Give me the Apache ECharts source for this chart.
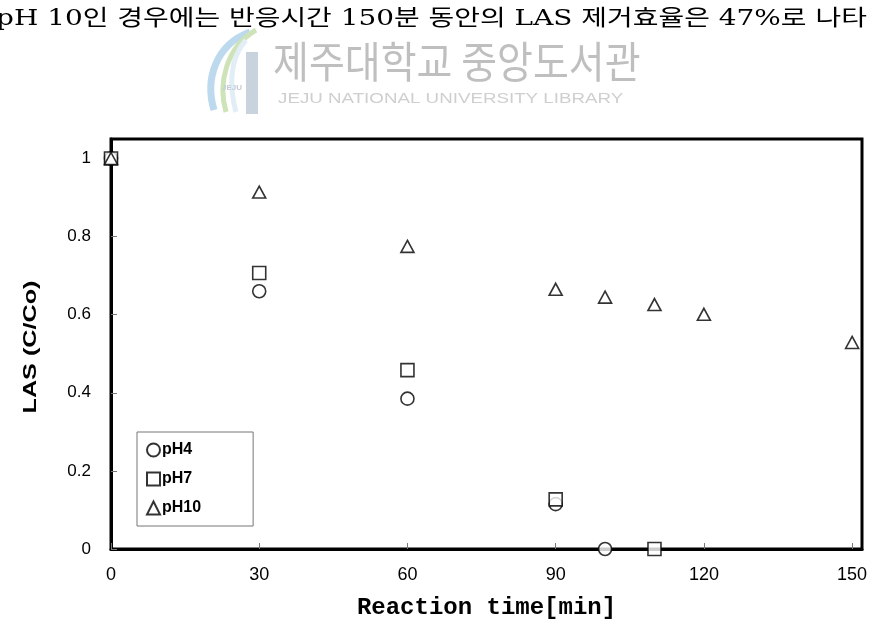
<!DOCTYPE html>
<html>
<head>
<meta charset="utf-8">
<script src="https://cdn.jsdelivr.net/npm/echarts@6/dist/echarts.min.js"></script>
<style>
html,body{margin:0;padding:0;background:#fff;}
#chart{width:874px;height:634px;}
</style>
</head>
<body>
<div id="chart"></div>
<script>
// ---- data ----
const timePH4 = [0, 30, 60, 90, 100];
const valPH4 = [1, 0.66, 0.385, 0.115, 0];
const timePH7 = [0, 30, 60, 90, 110];
const valPH7 = [1, 0.707, 0.458, 0.127, 0];
const timePH10 = [0, 30, 60, 90, 100, 110, 120, 150];
const valPH10 = [1, 0.914, 0.775, 0.665, 0.645, 0.626, 0.601, 0.529];
const seriesNames = ['pH4', 'pH7', 'pH10'];
const xAxisTitle = 'Reaction time[min]';
const yAxisTitle = 'LAS (C/Co)';
const pageText = 'pH 10인 경우에는 반응시간 150분 동안의 LAS 제거효율은 47%로 나타';
const watermarkKo = '제주대학교 중앙도서관';
const watermarkEn = 'JEJU NATIONAL UNIVERSITY LIBRARY';

function pairs(xs, ys) { return xs.map((x, i) => [x, ys[i]]); }

const chart = echarts.init(document.getElementById('chart'), null, {renderer: 'canvas'});
const markerStyle = {color: '#fff', borderColor: '#000', borderWidth: 1.6};

chart.setOption({
  animation: false,
  backgroundColor: '#fff',
  grid: {left: 111, top: 139, right: 12, bottom: 85, show: true, borderColor: '#000', borderWidth: 3, backgroundColor: 'transparent'},
  xAxis: {
    type: 'value', min: 0, max: 152, interval: 30,
    name: xAxisTitle, nameLocation: 'middle', nameGap: 47,
    nameTextStyle: {fontFamily: "'Liberation Mono', monospace", fontWeight: 'bold', fontSize: 24, color: '#000'},
    axisLine: {show: true, lineStyle: {color: '#000', width: 3}},
    axisTick: {show: true, inside: true, length: 6, lineStyle: {color: '#777', width: 1}},
    axisLabel: {showMaxLabel: false, margin: 17, fontFamily: "'Liberation Sans Narrow', 'Liberation Sans', sans-serif", fontSize: 18, color: '#000'},
    splitLine: {show: false}
  },
  yAxis: {
    type: 'value', min: 0, max: 1.05, interval: 0.2,
    axisLine: {show: true, lineStyle: {color: '#000', width: 3}},
    axisTick: {show: true, inside: true, length: 6, lineStyle: {color: '#777', width: 1}},
    axisLabel: {showMaxLabel: false, margin: 20, fontFamily: "'Liberation Sans', sans-serif", fontSize: 17, color: '#000',
      formatter: v => (Math.abs(v) < 1e-9 ? '0' : Math.abs(v - 1) < 1e-9 ? '1' : v.toFixed(1))},
    splitLine: {show: false}
  },
  legend: {
    data: seriesNames, orient: 'vertical', left: 137, top: 432, selectedMode: false,
    borderColor: '#777', borderWidth: 1, padding: [10, 52, 10, 9], itemGap: 13,
    itemWidth: 13, itemHeight: 13,
    textStyle: {fontFamily: "'Liberation Sans', sans-serif", fontWeight: 'bold', fontSize: 16, color: '#000', padding: [0, 0, 0, -3]}
  },
  series: [
    {name: seriesNames[0], type: 'scatter', symbol: 'circle', symbolSize: 13, data: pairs(timePH4, valPH4), itemStyle: markerStyle, z: 3},
    {name: seriesNames[1], type: 'scatter', symbol: 'rect', symbolSize: 13, data: pairs(timePH7, valPH7), itemStyle: markerStyle, z: 4},
    {name: seriesNames[2], type: 'scatter', symbol: 'triangle', symbolSize: [13, 12], data: pairs(timePH10, valPH10), itemStyle: markerStyle, z: 5}
  ],
  graphic: [
    // y axis title
    {type: 'text', silent: true, x: 31, y: 347, rotation: Math.PI / 2, scaleX: 1.4,
      style: {text: yAxisTitle, font: "bold 18px 'Liberation Sans'", fill: '#000', textAlign: 'center', textVerticalAlign: 'middle'}},
    // logo (decorative)
    {type: 'bezierCurve', silent: true, shape: {x1: 250, y1: 32, x2: 214, y2: 110, cpx1: 215, cpy1: 45, cpx2: 205, cpy2: 80}, style: {stroke: '#bcd9ee', lineWidth: 7, fill: null}},
    {type: 'bezierCurve', silent: true, shape: {x1: 256, y1: 30, x2: 226, y2: 112, cpx1: 225, cpy1: 48, cpx2: 218, cpy2: 85}, style: {stroke: '#cfe3b8', lineWidth: 5, fill: null}},
    {type: 'bezierCurve', silent: true, shape: {x1: 246, y1: 40, x2: 236, y2: 112, cpx1: 228, cpy1: 60, cpx2: 230, cpy2: 90}, style: {stroke: '#e2eef6', lineWidth: 5, fill: null}},
    {type: 'rect', silent: true, shape: {x: 246, y: 52, width: 12, height: 62}, style: {fill: '#c9d3de'}},
    {type: 'text', silent: true, left: 222, top: 84, style: {text: 'JEJU', font: 'bold 8px Liberation Sans', fill: '#c4ccd6'}},
    // watermark
    {type: 'text', silent: true, x: 273, y: 40, scaleY: 1.12, style: {text: watermarkKo, font: "39px 'Noto Sans CJK KR'", fill: '#bfbfbf'}},
    {type: 'text', silent: true, x: 278, y: 91, scaleX: 1.25, style: {text: watermarkEn, font: "15px 'Liberation Sans'", fill: '#cfcfcf'}},
    // page text
    {type: 'text', silent: true, x: -4, y: 8, scaleX: 1.27, style: {text: pageText, font: "22px 'DejaVu Serif', 'Noto Sans CJK KR'", fill: '#000'}}
  ]
});
</script>
</body>
</html>
